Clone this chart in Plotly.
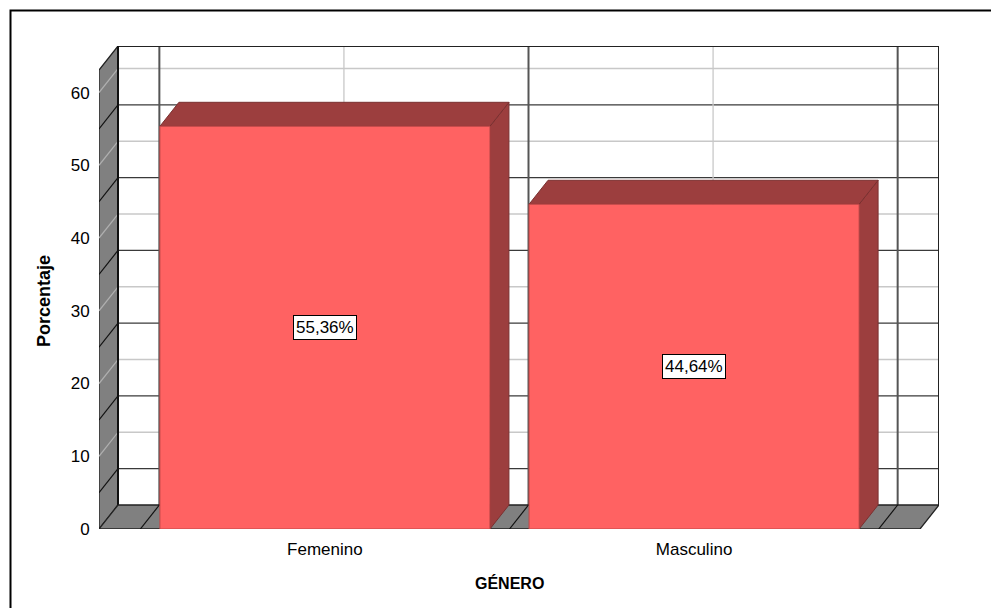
import plotly.graph_objects as go

# ---- data ----
categories = ["Femenino", "Masculino"]
percentages = [55.36, 44.64]
value_labels = ["55,36%", "44,64%"]
y_tick_values = [0, 10, 20, 30, 40, 50, 60]
x_title = "GÉNERO"
y_title = "Porcentaje"

# ---- styling / geometry (in axis units) ----
W, H = 991, 608
FONT = "Liberation Sans, Arial, sans-serif"
PAD = 0.112          # front plane extends beyond category boundaries
HALF_W = 0.447       # half bar width
DX = 0.0515          # 3D depth, x units
DY = 3.3             # 3D depth, y units
Y_TOP = 66.4         # top of back wall (axis units)
FRONT = "#FF6262"
SHADE = "#9C3E3E"
WALL = "#808080"
DARK = "#3a3a3a"
LIGHT = "#c8c8c8"

n = len(categories)
x0 = -0.5 - PAD
x1 = n - 0.5 + PAD

shapes = []

def line(xa, ya, xb, yb, color, width):
    shapes.append(dict(type="line", xref="x", yref="y", x0=xa, y0=ya, x1=xb, y1=yb,
                       line=dict(color=color, width=width)))

def poly(pts, fill, lc, lw=1):
    path = "M " + " L ".join(f"{px},{py}" for px, py in pts) + " Z"
    shapes.append(dict(type="path", xref="x", yref="y", path=path, fillcolor=fill,
                       line=dict(color=lc, width=lw)))

# back wall background
poly([(x0 + DX, DY), (x1 + DX, DY), (x1 + DX, Y_TOP), (x0 + DX, Y_TOP)], "white", DARK, 0)

# back wall horizontal gridlines (every 5; multiples of 10 light)
v = 5
while v + DY < Y_TOP:
    col = LIGHT if v % 10 == 0 else DARK
    line(x0 + DX, v + DY, x1 + DX, v + DY, col, 1.5 if col == LIGHT else 1.3)
    v += 5

# back wall vertical gridlines
for i in range(n):
    line(i + DX, DY, i + DX, Y_TOP, LIGHT, 1.3)
for b in [k - 0.5 for k in range(n + 1)]:
    line(b + DX, DY, b + DX, Y_TOP, "#555555", 2)

# back wall outline
line(x0 + DX, Y_TOP, x1 + DX, Y_TOP, "#222222", 2)
line(x1 + DX, DY, x1 + DX, Y_TOP, "#222222", 2)

# left wall
poly([(x0, 0), (x0 + DX, DY), (x0 + DX, Y_TOP), (x0, Y_TOP - DY)], WALL, "#222222", 1.3)
v = 5
while v < Y_TOP - DY:
    col = "#b0b0b0" if v % 10 == 0 else "#111111"
    line(x0, v, x0 + DX, v + DY, col, 1.2)
    v += 5
line(x0 + DX, DY, x0 + DX, Y_TOP, "#111111", 2)

# floor
poly([(x0, 0), (x1, 0), (x1 + DX, DY), (x0 + DX, DY)], WALL, "#222222", 1.3)
for b in [k - 0.5 for k in range(n + 1)]:
    line(b, 0, b + DX, DY, "#111111", 1.2)

# bars
for i, val in enumerate(percentages):
    l, r = i - HALF_W, i + HALF_W
    poly([(r, 0), (r + DX, DY), (r + DX, val + DY), (r, val)], SHADE, "#7a3030", 1)
    poly([(l, val), (l + DX, val + DY), (r + DX, val + DY), (r, val)], SHADE, "#7a3030", 1)
    poly([(l, 0), (r, 0), (r, val), (l, val)], FRONT, "#c04848", 1)

annotations = []
for i, (val, lab) in enumerate(zip(percentages, value_labels)):
    annotations.append(dict(x=i, y=val / 2, xref="x", yref="y", text=lab, showarrow=False,
                            font=dict(family=FONT, size=17, color="black"),
                            bgcolor="white", bordercolor="black", borderwidth=1, borderpad=2))

annotations.append(dict(x=509.5 / W, y=1 - 583 / H, xref="paper", yref="paper", text=f"<b>{x_title}</b>",
                        xanchor="center", yanchor="middle",
                        showarrow=False, font=dict(family=FONT, size=16, color="black")))
annotations.append(dict(x=44 / W, y=1 - 301 / H, xref="paper", yref="paper", text=f"<b>{y_title}</b>",
                        xanchor="center", yanchor="middle",
                        showarrow=False, textangle=-90, font=dict(family=FONT, size=18, color="black")))

# outer border
shapes.append(dict(type="rect", xref="paper", yref="paper", x0=10.5 / W, y0=-0.05, x1=1.05, y1=1 - 10.5 / H,
                   line=dict(color="black", width=2), fillcolor="rgba(0,0,0,0)", layer="below"))

fig = go.Figure()
fig.add_trace(go.Scatter(x=[x0, x1 + DX], y=[0, Y_TOP], mode="markers",
                         marker=dict(opacity=0), hoverinfo="skip", showlegend=False))

fig.update_layout(
    width=W, height=H,
    margin=dict(l=0, r=0, t=0, b=0),
    paper_bgcolor="white", plot_bgcolor="white",
    shapes=shapes, annotations=annotations,
    showlegend=False,
    xaxis=dict(domain=[99 / W, 939 / W], range=[x0, x1 + DX], tickvals=list(range(n)),
               ticktext=categories, showgrid=False, zeroline=False, showline=False,
               ticks="outside", ticklen=5, tickcolor="rgba(0,0,0,0)", automargin=False,
               tickfont=dict(family=FONT, size=17, color="black")),
    yaxis=dict(domain=[1 - 529 / H, 1 - 46 / H], range=[0, Y_TOP], tickvals=y_tick_values,
               showgrid=False, zeroline=False, showline=False,
               ticks="outside", ticklen=5, tickcolor="rgba(0,0,0,0)", automargin=False,
               tickfont=dict(family=FONT, size=17, color="black")),
)

fig.write_html("out.html", config={"displayModeBar": False},
               post_script="document.body.style.margin='0';document.body.style.overflow='hidden';")
